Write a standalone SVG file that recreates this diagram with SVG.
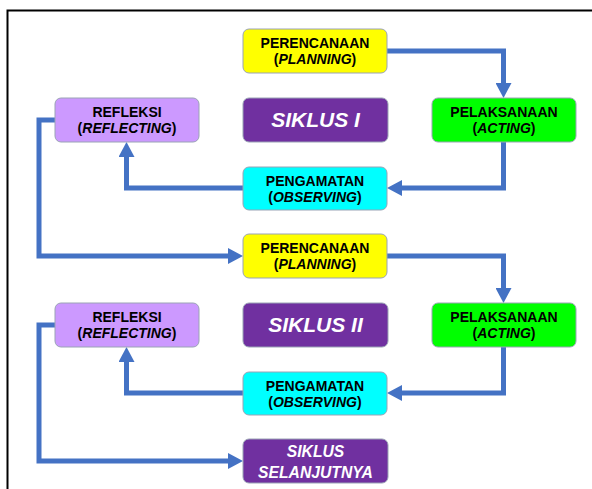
<svg xmlns="http://www.w3.org/2000/svg" width="592" height="489" viewBox="0 0 592 489">
<style>
.box{stroke:#9aa3b5;stroke-width:1}
.plan{fill:#FFFF00}
.act{fill:#00FF00}
.obs{fill:#00FFFF}
.ref{fill:#CC99FF}
.cyc{fill:#7030A0}
.t{font-family:"Liberation Sans",Arial,sans-serif;font-weight:bold;font-size:14px;fill:#000;text-anchor:middle}
.i{font-style:italic}
.c{font-family:"Liberation Sans",Arial,sans-serif;font-weight:bold;font-style:italic;font-size:21px;fill:#fff;text-anchor:middle}
.c2{font-family:"Liberation Sans",Arial,sans-serif;font-weight:bold;font-style:italic;font-size:15.7px;fill:#fff;text-anchor:middle}
.ln{fill:none;stroke:#4472C4;stroke-width:5;stroke-linejoin:miter;marker-end:url(#ah)}
</style>
<defs>
<marker id="ah" viewBox="0 0 15 16" refX="1" refY="8" markerWidth="15" markerHeight="16" markerUnits="userSpaceOnUse" orient="auto">
<path d="M0,0 L15,8 L0,16 z" fill="#4472C4"/>
</marker>
</defs>
<rect x="0" y="0" width="592" height="489" fill="#fff"/>
<rect x="7.5" y="10.5" width="620" height="520" fill="none" stroke="#000" stroke-width="2"/>
<g id="connectors">
<path class="ln" d="M387,51 H503.5 V84"/>
<path class="ln" d="M503.5,142 V188 H401"/>
<path class="ln" d="M243,188 H126.5 V156"/>
<path class="ln" d="M55,120 H39 V256 H229"/>
<path class="ln" d="M387,256 H503.5 V289"/>
<path class="ln" d="M503.5,347 V393 H401"/>
<path class="ln" d="M243,393 H126.5 V361"/>
<path class="ln" d="M55,325 H39 V461 H229"/>
</g>
<g id="planning1"><rect class="box plan" x="243" y="29" width="144" height="44" rx="6"/><text class="t" x="315" y="48">PERENCANAAN</text><text class="t" x="315" y="64">(<tspan class="i">PLANNING</tspan>)</text></g>
<g id="siklus1"><rect class="box cyc" x="243" y="98" width="145" height="44" rx="6"/><text class="c" x="315.5" y="127">SIKLUS I</text></g>
<g id="refleksi1"><rect class="box ref" x="55" y="98" width="144" height="44" rx="6"/><text class="t" x="127" y="117">REFLEKSI</text><text class="t" x="127" y="133">(<tspan class="i">REFLECTING</tspan>)</text></g>
<g id="pelaksanaan1"><rect class="box act" x="432" y="98" width="144" height="44" rx="6"/><text class="t" x="504" y="117">PELAKSANAAN</text><text class="t" x="504" y="133">(<tspan class="i">ACTING</tspan>)</text></g>
<g id="pengamatan1"><rect class="box obs" x="243" y="167" width="144" height="43" rx="6"/><text class="t" x="315" y="186">PENGAMATAN</text><text class="t" x="315" y="202">(<tspan class="i">OBSERVING</tspan>)</text></g>
<g id="planning2"><rect class="box plan" x="243" y="234" width="144" height="44" rx="6"/><text class="t" x="315" y="253">PERENCANAAN</text><text class="t" x="315" y="269">(<tspan class="i">PLANNING</tspan>)</text></g>
<g id="siklus2"><rect class="box cyc" x="243" y="303" width="145" height="44" rx="6"/><text class="c" x="315.5" y="332">SIKLUS II</text></g>
<g id="refleksi2"><rect class="box ref" x="55" y="303" width="144" height="44" rx="6"/><text class="t" x="127" y="322">REFLEKSI</text><text class="t" x="127" y="338">(<tspan class="i">REFLECTING</tspan>)</text></g>
<g id="pelaksanaan2"><rect class="box act" x="432" y="303" width="144" height="44" rx="6"/><text class="t" x="504" y="322">PELAKSANAAN</text><text class="t" x="504" y="338">(<tspan class="i">ACTING</tspan>)</text></g>
<g id="pengamatan2"><rect class="box obs" x="243" y="372" width="144" height="43" rx="6"/><text class="t" x="315" y="391">PENGAMATAN</text><text class="t" x="315" y="407">(<tspan class="i">OBSERVING</tspan>)</text></g>
<g id="siklus-selanjutnya"><rect class="box cyc" x="243" y="439" width="145" height="44" rx="6"/><text class="c2" x="315.5" y="457">SIKLUS</text><text class="c2" x="315.5" y="478">SELANJUTNYA</text></g>
</svg>
